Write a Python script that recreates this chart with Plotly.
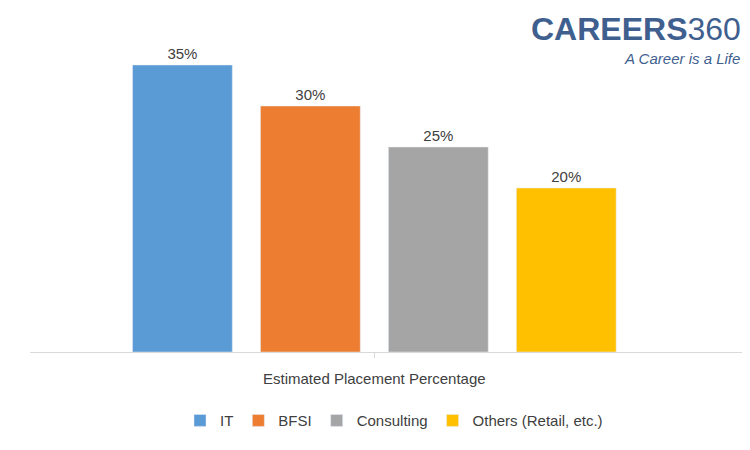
import plotly.graph_objects as go

category = ["Estimated Placement Percentage"]
sectors = ["IT", "BFSI", "Consulting", "Others (Retail, etc.)"]
values = [35, 30, 25, 20]
colors = ["#5b9bd5", "#ed7d31", "#a5a5a5", "#ffc000"]

fig = go.Figure()
for name, v, c in zip(sectors, values, colors):
    fig.add_trace(go.Bar(x=category, y=[v], name=name, marker_color=c,
                         text=[f"{v}%"], textposition="outside",
                         textfont=dict(size=15, color="#404040"), cliponaxis=False))
# push value labels higher above bars
fig.update_traces(outsidetextfont=dict(size=15, color="#404040"))

fig.update_layout(
    width=750, height=450, barmode="group", bargap=0.297, bargroupgap=0.22,
    plot_bgcolor="white", paper_bgcolor="white",
    font=dict(family="Liberation Sans, Arial", color="#404040", size=14),
    margin=dict(l=22, r=0, t=32, b=106),
    legend=dict(orientation="h", x=0.5, xanchor="center", y=-0.22, yanchor="middle",
                font=dict(size=15)),
    xaxis=dict(range=[-0.473, 0.527], showline=True, linecolor="#d9d9d9",
               ticks="outside", ticklen=5, tickcolor="#d9d9d9", ticklabelstandoff=8,
               tickfont=dict(size=15, color="#404040")),
    yaxis=dict(range=[0, 38.05], visible=False),
)
fig.add_annotation(xref="paper", yref="paper", x=0.98, y=1.10, xanchor="right", yanchor="top",
                   showarrow=False,
                   text="<b>CAREERS</b><span style='font-weight:300'>360</span>",
                   font=dict(family="Liberation Sans, Arial", size=32, color="#3f5f8f"))
fig.add_annotation(xref="paper", yref="paper", x=0.978, y=0.975, xanchor="right", yanchor="top",
                   showarrow=False, text="<i>A Career is a Life</i>",
                   font=dict(family="Liberation Sans, Arial", size=15, color="#3f5f8f"))
fig.write_html("out.html")
